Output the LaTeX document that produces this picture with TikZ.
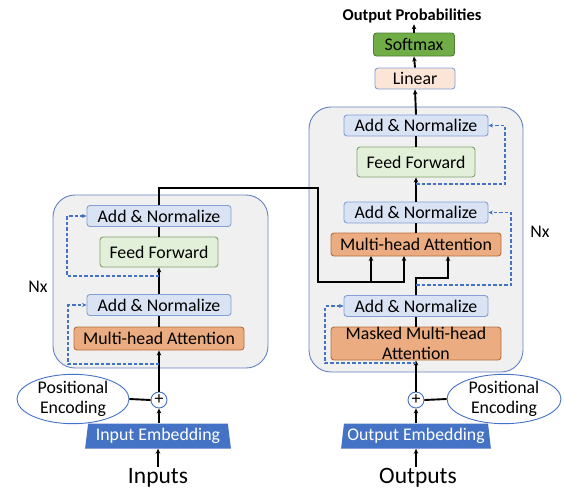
\documentclass[tikz,border=0pt]{standalone}
\usepackage{fontspec}
\setmainfont{Carlito}
\usetikzlibrary{arrows.meta,shapes.geometric,calc}
\definecolor{boxfill}{RGB}{240,240,240}
\definecolor{boxline}{RGB}{100,130,195}
\definecolor{addfill}{RGB}{218,227,243}
\definecolor{addline}{RGB}{130,160,215}
\definecolor{fffill}{RGB}{226,240,217}
\definecolor{ffline}{RGB}{130,160,110}
\definecolor{mhafill}{RGB}{234,172,128}
\definecolor{mhaline}{RGB}{185,110,60}
\definecolor{smfill}{RGB}{112,173,71}
\definecolor{smline}{RGB}{80,126,50}
\definecolor{linfill}{RGB}{251,229,214}
\definecolor{dblue}{RGB}{68,114,196}
\begin{document}
\begin{tikzpicture}[x=1pt,y=-1pt,
  font=\fontsize{17.8}{19.5}\selectfont,
  bigbox/.style={draw=boxline, fill=boxfill, rounded corners=22pt, line width=0.9pt, inner sep=0pt},
  blk/.style={rounded corners=3pt, inner sep=0pt, line width=0.9pt},
  addn/.style={blk, draw=addline, fill=addfill, minimum width=144pt, minimum height=21pt},
  ffb/.style={blk, draw=ffline, fill=fffill, minimum width=118pt, minimum height=30pt},
  mha/.style={blk, draw=mhaline, fill=mhafill, minimum width=170pt, minimum height=23pt},
  conn/.style={line width=1.9pt},
  arr/.style={conn, -{Stealth[length=5pt,width=4.5pt]}},
  xconn/.style={line width=2.3pt, -{Stealth[length=5pt,width=4.5pt]}},
  res/.style={draw=dblue, line width=1.2pt, dash pattern=on 3.5pt off 2pt, -{Stealth[length=4.5pt,width=4pt]}},
  plusn/.style={circle, draw=dblue, fill=white, line width=0.9pt, minimum size=16pt, inner sep=0pt, font=\fontsize{18}{18}\selectfont},
  pe/.style={ellipse, draw=dblue, fill=white, line width=0.9pt, minimum width=112pt, minimum height=42pt, inner sep=0pt, align=center},
  emb/.style={trapezium, trapezium stretches=true, trapezium left angle=80, trapezium right angle=80, fill=dblue, text=white, minimum width=146pt, minimum height=25pt, inner sep=0pt},
  bigtxt/.style={font=\fontsize{23.5}{25}\selectfont, inner sep=1pt}
]
\useasboundingbox (0,0) rectangle (564,490);

% containers
\node[bigbox, minimum width=215pt, minimum height=173pt] (encbox) at (160.5,281.5) {};
\node[bigbox, minimum width=214pt, minimum height=265pt] (decbox) at (416,239.5) {};

% encoder
\node[addn] (ea2) at (159,216) {Add \& Normalize};
\node[ffb] (eff) at (159,252) {Feed Forward};
\node[addn] (ea1) at (159,305) {Add \& Normalize};
\node[mha] (emha) at (159,338.5) {Multi-head Attention};
\node (enx) at (38,287) {Nx};

% decoder
\node[addn] (da3) at (416,125.5) {Add \& Normalize};
\node[ffb] (dff) at (416,162) {Feed Forward};
\node[addn] (da2) at (416,212.5) {Add \& Normalize};
\node[mha] (dmha) at (416,244.5) {Multi-head Attention};
\node[addn] (da1) at (416,306) {Add \& Normalize};
\node[mha, minimum height=33pt, align=center, font=\fontsize{17.8}{19.5}\selectfont] (dmmha) at (416,343.5) {Masked Multi-head\\Attention};
\node (dnx) at (540,232) {Nx};

% top
\node[blk, draw=addline, fill=linfill, minimum width=80pt, minimum height=21pt] (lin) at (415,78.5) {Linear};
\node[blk, draw=smline, fill=smfill, minimum width=81pt, minimum height=23pt] (soft) at (414,44.5) {Softmax};
\node[font=\fontsize{16.5}{18}\bfseries, inner sep=1pt] (outp) at (412,16) {Output Probabilities};

% bottom
\node[plusn] (eplus) at (159,400) {+};
\node[plusn] (dplus) at (416,400) {+};
\node[pe] (pe1) at (73,399) {Positional\\Encoding};
\node[pe, minimum width=114pt] (pe2) at (504,399) {Positional\\Encoding};
\node[emb] (emb1) at (158,436) {Input Embedding};
\node[emb, minimum width=150pt] (emb2) at (416,436) {Output Embedding};
\node[bigtxt] (inp) at (158,477.5) {Inputs};
\node[bigtxt] (outs) at (418,477.5) {Outputs};

% encoder connectors
\draw[arr] (inp.north -| emb1.south) -- (emb1.south);
\draw[arr] (emb1.north -| eplus) -- (eplus.south);
\draw[conn] (pe1.east) -- (eplus.west);
\draw[arr] (eplus.north) -- (eplus |- emha.south);
\draw[conn] (emha.north) -- (ea1.south);
\draw[arr] (ea1.north) -- (eff.south);
\draw[conn] (eff.north) -- (ea2.south);

% decoder connectors
\draw[arr] (outs.north -| emb2.south) -- (emb2.south);
\draw[arr] (emb2.north -| dplus) -- (dplus.south);
\draw[conn] (pe2.west) -- (dplus.east);
\draw[arr] (dplus.north) -- (dplus |- dmmha.south);
\draw[conn] (dmmha.north) -- (da1.south);
\draw[conn] (dmha.north) -- (da2.south);
\draw[arr] (da2.north) -- (dff.south);
\draw[conn] (dff.north) -- (da3.south);
\draw[arr] (da3.north) -- (lin.south);
\draw[arr] (lin.north) -- (soft.south);
\draw[arr] (soft.north) -- (outp.south -| soft.north);

% decoder branch into attention
\coordinate (kC) at (448,256);
\coordinate (kjoin) at (416,278);
\draw[arr] (da1.north) -- (kjoin) -| (kC);

% encoder to decoder
\coordinate (ej1) at (318,188);
\coordinate (ej2) at (318,282);
\coordinate (kA) at (371,256);
\coordinate (kB) at (404,256);
\draw[xconn] (ea2.north) |- (ej1) -- (ej2) -| (kB);
\draw[xconn] (ej2 -| kA) -- (kA);

% residual (dashed)
\coordinate (r1) at (67,276);
\coordinate (r2) at (68,364);
\coordinate (r3) at (505,184);
\coordinate (r4) at (511,285);
\coordinate (r5) at (325,363);
\draw[res] (eff.south |- r1) -- (r1) |- (ea2.west);
\draw[res] (eplus |- r2) -- (r2) |- (ea1.west);
\draw[res] (dff.south |- r3) -- (r3) |- (da3.east);
\draw[res] (da1.north |- r4) -- (r4) |- (da2.east);
\draw[res] (dplus |- r5) -- (r5) |- (da1.west);
\end{tikzpicture}
\end{document}
